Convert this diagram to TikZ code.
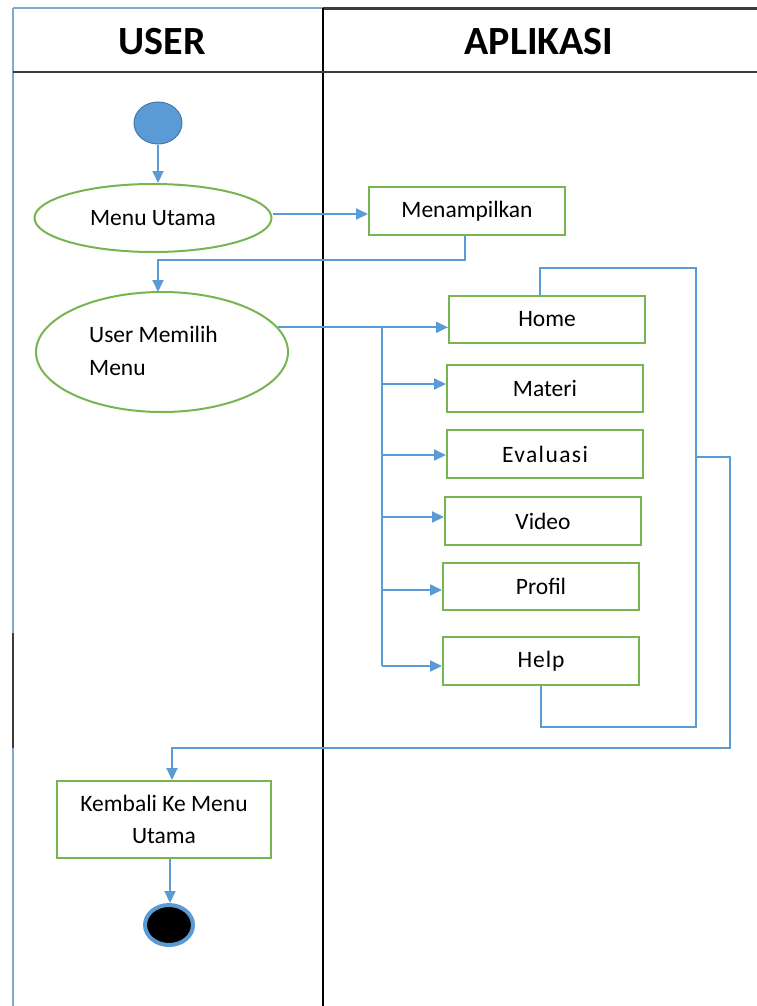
\documentclass[tikz,border=0pt]{standalone}
\usepackage{fontspec}
\setmainfont{Carlito}
\usetikzlibrary{arrows.meta,shapes.geometric,calc}
\definecolor{lnblue}{RGB}{91,155,213}
\definecolor{frblue}{RGB}{130,168,210}
\definecolor{bxgreen}{RGB}{120,180,80}
\definecolor{stblue}{RGB}{70,120,170}
\definecolor{dkgray}{RGB}{60,60,60}
\tikzset{
  flow/.style={draw=lnblue,line width=2pt},
  arr/.style={flow,-{Triangle[length=12pt,width=11pt]}},
  actbox/.style={draw=bxgreen,line width=2pt,rectangle,inner sep=0pt,align=center,font=\fontsize{23.5}{31}\selectfont},
  actell/.style={draw=bxgreen,line width=2pt,ellipse,inner sep=0pt,font=\fontsize{23.5}{31}\selectfont},
  hdr/.style={font=\bfseries\fontsize{40}{42}\selectfont,inner sep=0pt}
}
\begin{document}
\begin{tikzpicture}[x=1pt,y=-1pt]
\useasboundingbox (0,0) rectangle (757,1006);
% frame
\draw[frblue,line width=2pt] (13,8) -- (323,8);
\draw[dkgray,line width=2.4pt] (323,8.5) -- (757,8.5);
\draw[frblue,line width=2pt] (13,8) -- (13,633);
\draw[dkgray,line width=2.4pt] (13,633) -- (13,748);
\draw[frblue,line width=2pt] (13,748) -- (13,1006);
\draw[black,line width=1.6pt] (323,8) -- (323,1006);
\draw[dkgray,line width=2.4pt] (13,72) -- (757,72);
\node[hdr] (huser) at (162,42) {USER};
\node[hdr] (happ) at (539,42) {APLIKASI};
% nodes
\node[draw=stblue,fill=lnblue,line width=1pt,ellipse,minimum width=48pt,minimum height=42pt,inner sep=0pt] (start) at (158,123) {};
\node[actell,minimum width=237pt,minimum height=68pt] (mu) at (153,218) {Menu Utama};
\node[actbox,minimum width=196pt,minimum height=48pt] (menam) at (467,211) {Menampilkan};
\node[actell,minimum width=252pt,minimum height=120pt] (pilih) at (162,352) {};
\node[anchor=west,align=left,inner sep=0pt,font=\fontsize{23.5}{33}\selectfont] (piltxt) at (89,351) {User Memilih\\Menu};
\node[actbox,minimum width=196pt,minimum height=47pt] (home) at (547,319.5) {Home};
\node[actbox,minimum width=196pt,minimum height=47pt] (materi) at (545,388.5) {Materi};
\node[actbox,minimum width=196pt,minimum height=48pt] (eval) at (545,454) {\addfontfeatures{LetterSpace=6}Evaluasi};
\node[actbox,minimum width=196pt,minimum height=48pt] (video) at (543,521) {Video};
\node[actbox,minimum width=196pt,minimum height=47pt] (profil) at (541,586.5) {Profil};
\node[actbox,minimum width=196pt,minimum height=48pt] (help) at (541,661) {\addfontfeatures{LetterSpace=4}Help};
\node[actbox,minimum width=214pt,minimum height=77pt,font=\fontsize{23.5}{32}\selectfont] (kembali) at (164,819.5) {Kembali Ke Menu\\Utama};
\node[draw=lnblue,fill=black,line width=4pt,ellipse,minimum width=48pt,minimum height=40pt,inner sep=0pt] (end) at (169,925) {};
% connectors
\draw[arr] (start.south) -- (start.south |- mu.north);
\draw[arr] ([yshift=4pt]mu.east) -- ([yshift=4pt]mu.east -| menam.west);
\draw[arr] ([xshift=-2pt]menam.south) |- (158,260) -- (158,292);
\coordinate (br) at (382,328);
\draw[arr] (pilih.12) -- (pilih.12 -| home.west);
\draw[flow] (br) -- (382,666);
\draw[arr] (br |- 0,384) -- (materi.west |- 0,384);
\draw[arr] (br |- 0,455) -- (eval.west |- 0,455);
\draw[arr] (br |- 0,517) -- (video.west |- 0,517);
\draw[arr] (br |- 0,590) -- (profil.west |- 0,590);
\draw[arr] (br |- 0,666) -- (help.west |- 0,666);
\coordinate (lt) at (696,268);
\coordinate (lb) at (696,727);
\coordinate (ej) at (696,457);
\draw[flow] ([xshift=-7pt]home.north) |- (lt) -- (lb) -| (help.south);
\draw[arr] (ej) -| (730,748) -| ([xshift=8pt]kembali.north);
\draw[arr] ([xshift=6pt]kembali.south) -- ([xshift=6pt]kembali.south |- end.north);
\end{tikzpicture}
\end{document}
